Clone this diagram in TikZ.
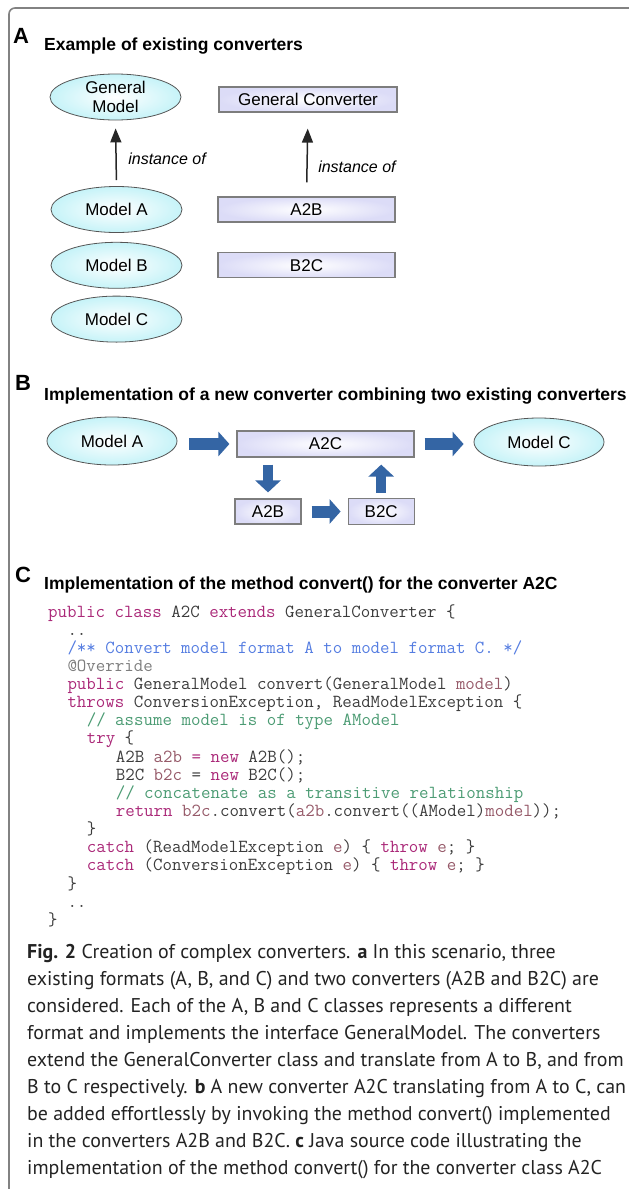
\documentclass[tikz,border=0pt]{standalone}
\usepackage{fontspec}
\setmainfont{Liberation Sans}
\newfontfamily\capfont{PT Sans}
\usetikzlibrary{arrows.meta, positioning, shapes.geometric}

\definecolor{modelcyan}{RGB}{198,243,248}
\definecolor{convlav}{RGB}{220,220,247}
\definecolor{edgegray}{RGB}{85,85,85}
\definecolor{boxgray}{RGB}{125,125,125}
\definecolor{flowblue}{RGB}{52,101,164}
\definecolor{framegray}{RGB}{130,130,130}
\definecolor{codeplain}{RGB}{60,60,60}
\definecolor{codekw}{RGB}{170,40,120}
\definecolor{codevar}{RGB}{150,90,105}
\definecolor{codedoc}{RGB}{85,125,225}
\definecolor{codecom}{RGB}{75,155,115}
\definecolor{codeann}{RGB}{125,125,125}
\definecolor{captext}{RGB}{35,35,35}

\newcommand{\jkw}[1]{\textcolor{codekw}{#1}}
\newcommand{\jvar}[1]{\textcolor{codevar}{#1}}
\newcommand{\jdoc}[1]{\textcolor{codedoc}{#1}}
\newcommand{\jcom}[1]{\textcolor{codecom}{#1}}
\newcommand{\jann}[1]{\textcolor{codeann}{#1}}

\begin{document}
\begin{tikzpicture}[x=1pt, y=-1pt,
    model/.style={ellipse, draw=edgegray, line width=0.8pt, inner color=white,
                  outer color=modelcyan, minimum width=131pt, minimum height=46pt,
                  inner sep=0pt, align=center, font=\fontsize{17}{19}\selectfont},
    converter/.style={rectangle, draw=boxgray, line width=1.2pt, inner color=white,
                      outer color=convlav, minimum width=177pt, minimum height=25pt,
                      inner sep=0pt, font=\fontsize{17}{19}\selectfont},
    small converter/.style={converter, minimum width=66pt},
    instance/.style={-{Triangle[length=14pt, width=11pt]}, line width=1.5pt, draw=black!85},
    inst text/.style={font=\fontsize{16}{18}\selectfont\itshape, inner sep=0pt},
    flow/.style={-{Triangle[length=11pt, width=24pt]}, line width=12pt, draw=flowblue},
    flow down/.style={flow, line width=10pt, -{Triangle[length=12pt, width=25pt]}},
    panel/.style={anchor=base west, inner sep=0pt, font=\fontsize{22}{22}\selectfont\bfseries},
    heading/.style={anchor=base west, inner sep=0pt, font=\fontsize{17.5}{20}\selectfont\bfseries},
    codeline/.style={anchor=base west, inner sep=0pt, text=codeplain,
                     font=\fontsize{18.4}{18}\selectfont\ttfamily},
    frame/.style={draw=framegray, line width=1.6pt, rounded corners=6pt}
]
\useasboundingbox (0,0) rectangle (629,1189);
\draw[frame] (629,8) -- (9,8) -- (9,1189);

% Panel A
\node[panel] (panA) at (13,43.5) {A};
\node[heading] (headA) at (44,50) {Example of existing converters};

\node[model] (genModel) at (115.5,97) {General\\Model};
\node[converter, minimum width=178pt] (genConv) at (308,99.5) {General Converter};

\node[model] (modelA) at (116.5,209.5) {Model A};
\node[model, below=9pt of modelA] (modelB) {Model B};
\node[model, below=7pt of modelB] (modelC) {Model C};
\node[converter, right=35pt of modelA] (a2b) {A2B};
\node[converter, right=35pt of modelB] (b2c) {B2C};

\draw[instance, shorten <=6pt, shorten >=8pt] (modelA.north) -- (genModel.south)
    node[inst text, pos=0.41, right=11.5pt] (inst1) {instance of};
\draw[instance, shorten <=14pt, shorten >=16pt] (a2b.north) -- (genConv.south)
    node[inst text, pos=0.355, right=10.5pt] (inst2) {instance of};

% Panel B
\node[panel] (panB) at (15,390) {B};
\node[heading] (headB) at (44,400) {Implementation of a new converter combining two existing converters};

\node[model, minimum width=130pt, minimum height=48pt] (srcA) at (112,441) {Model A};
\node[converter, minimum height=26pt] (a2c) at (325.5,444) {A2C};
\node[model, minimum width=130pt, minimum height=48pt] (dstC) at (539,442) {Model C};
\node[small converter] (a2bS) at (268,511.5) {A2B};
\node[small converter, right=46pt of a2bS, minimum height=26pt] (b2cS) {B2C};

\draw[flow, shorten <=12pt, shorten >=7pt] (srcA.east |- a2c) -- (a2c.west);
\draw[flow, shorten <=10pt, shorten >=10pt] (a2c.east) -- (dstC.west |- a2c);
\draw[flow down, shorten <=7pt, shorten >=6pt] (a2c.south -| a2bS) -- (a2bS.north);
\draw[flow down, shorten <=5pt, shorten >=7pt] (b2cS.north) -- (b2cS.north |- a2c.south);
\draw[flow, shorten <=10pt, shorten >=7pt] (a2bS.east) -- (b2cS.west);

% Panel C
\node[panel] (panC) at (15,582) {C};
\node[heading] (headC) at (44,589) {Implementation of the method convert() for the converter A2C};

% Java source
\node[codeline] (code1) at (48,617) {\jkw{public class} A2C \jkw{extends} GeneralConverter \{};
\node[codeline] (code2) at (67.3,635.14) {..};
\node[codeline] (code3) at (67.3,653.28) {\jdoc{/** Convert model format A to model format C. */}};
\node[codeline] (code4) at (67.3,671.42) {\jann{@Override}};
\node[codeline] (code5) at (67.3,689.56) {\jkw{public} GeneralModel convert(GeneralModel \jvar{model})};
\node[codeline] (code6) at (67.3,707.7) {\jkw{throws} ConversionException, ReadModelException \{};
\node[codeline] (code7) at (86.6,725.84) {\jcom{// assume model is of type AModel}};
\node[codeline] (code8) at (86.6,743.98) {\jkw{try} \{};
\node[codeline] (code9) at (115.6,762.12) {A2B \jvar{a2b} \jkw{=} \jkw{new} A2B();};
\node[codeline] (code10) at (115.6,780.26) {B2C \jvar{b2c} = \jkw{new} B2C();};
\node[codeline] (code11) at (115.6,798.4) {\jcom{// concatenate as a transitive relationship}};
\node[codeline] (code12) at (115.6,816.54) {\jkw{return} \jvar{b2c}.convert(\jvar{a2b}.convert((AModel)\jvar{model}));};
\node[codeline] (code13) at (86.6,834.68) {\}};
\node[codeline] (code14) at (86.6,852.82) {\jkw{catch} (ReadModelException \jvar{e}) \{ \jkw{throw} \jvar{e}; \}};
\node[codeline] (code15) at (86.6,870.96) {\jkw{catch} (ConversionException \jvar{e}) \{ \jkw{throw} \jvar{e}; \}};
\node[codeline] (code16) at (67.3,889.1) {\}};
\node[codeline] (code17) at (67.3,907.24) {..};
\node[codeline] (code18) at (48,925.38) {\}};

% Caption
\node[anchor=north west, inner sep=0pt, align=left, text=captext,
      font=\capfont\fontsize{19.9}{27}\selectfont] (caption) at (27,944) {%
\textbf{Fig. 2} Creation of complex converters. \textbf{a} In this scenario, three\\
existing formats (A, B, and C) and two converters (A2B and B2C) are\\
considered. Each of the A, B and C classes represents a different\\
format and implements the interface GeneralModel. The converters\\
extend the GeneralConverter class and translate from A to B, and from\\
B to C respectively. \textbf{b} A new converter A2C translating from A to C, can\\
be added effortlessly by invoking the method convert() implemented\\
in the converters A2B and B2C. \textbf{c} Java source code illustrating the\\
implementation of the method convert() for the converter class A2C};

\end{tikzpicture}
\end{document}
